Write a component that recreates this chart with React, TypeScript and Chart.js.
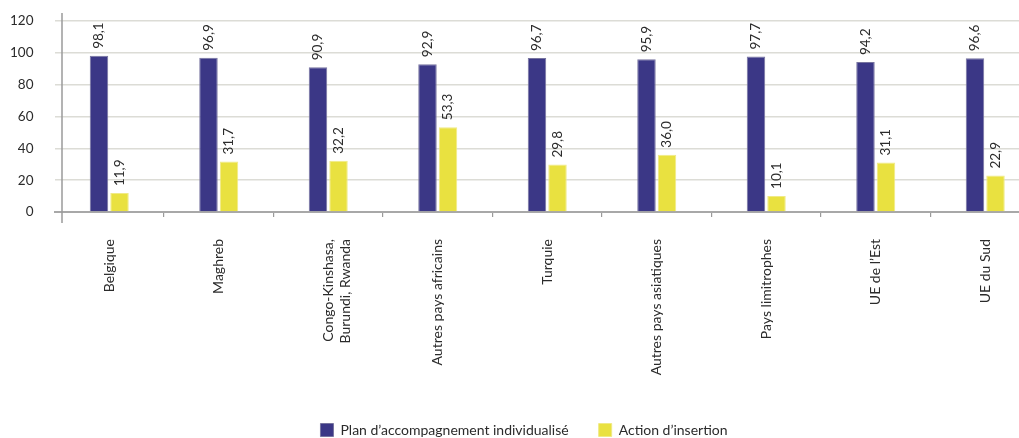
import React, { useEffect, useRef } from "react";
import { Chart, registerables } from "chart.js";

Chart.register(...registerables);

const categories: (string | string[])[] = [
  "Belgique",
  "Maghreb",
  ["Congo-Kinshasa,", "Burundi, Rwanda"],
  "Autres pays africains",
  "Turquie",
  "Autres pays asiatiques",
  "Pays limitrophes",
  "UE de l’Est",
  "UE du Sud",
];
const planValues = [98.1, 96.9, 90.9, 92.9, 96.7, 95.9, 97.7, 94.2, 96.6];
const insertionValues = [11.9, 31.7, 32.2, 53.3, 29.8, 36.0, 10.1, 31.1, 22.9];
const seriesNames = ["Plan d’accompagnement individualisé", "Action d’insertion"];
const yTicks = [0, 20, 40, 60, 80, 100, 120];

const FONT = "Lato, 'Open Sans', sans-serif";
const TEXT = "#2b2b2b";

const fmt = (v: number) => v.toFixed(1).replace(".", ",");

const valueLabels = {
  id: "valueLabels",
  afterDatasetsDraw(chart: any) {
    const ctx = chart.ctx;
    ctx.save();
    ctx.font = `13.5px ${FONT}`;
    ctx.fillStyle = TEXT;
    ctx.textAlign = "left";
    ctx.textBaseline = "middle";
    chart.data.datasets.forEach((ds: any, di: number) => {
      const meta = chart.getDatasetMeta(di);
      meta.data.forEach((bar: any, i: number) => {
        ctx.save();
        ctx.translate(bar.x, bar.y - 7);
        ctx.rotate(-Math.PI / 2);
        ctx.fillText(fmt(ds.data[i]), 0, 0);
        ctx.restore();
      });
    });
    ctx.restore();
  },
};

const yAxisLine = {
  id: "yAxisLine",
  afterDraw(chart: any) {
    const { ctx, chartArea } = chart;
    ctx.save();
    ctx.strokeStyle = "#9a9a9a";
    ctx.lineWidth = 1.5;
    const x = chartArea.left + 7.5;
    ctx.beginPath();
    ctx.moveTo(x, chartArea.top - 8);
    ctx.lineTo(x, chartArea.bottom + 11);
    ctx.stroke();
    ctx.restore();
  },
};

export default function App() {
  const ref = useRef<HTMLCanvasElement>(null);
  useEffect(() => {
    if (!ref.current) return;
    const chart = new Chart(ref.current, {
      type: "bar",
      data: {
        labels: categories,
        datasets: [
          {
            label: seriesNames[0],
            data: planValues,
            backgroundColor: "#3b3786",
            borderColor: "#77749f",
            borderWidth: 1,
            categoryPercentage: 0.375,
            barPercentage: 0.9,
          },
          {
            label: seriesNames[1],
            data: insertionValues,
            backgroundColor: "#e9e140",
            borderColor: "#f0ea86",
            borderWidth: 1,
            categoryPercentage: 0.375,
            barPercentage: 0.9,
          },
        ],
      },
      options: {
        responsive: false,
        animation: false,
        devicePixelRatio: 1,
        layout: { padding: { top: 21, left: 0, right: 5, bottom: 0 } },
        plugins: {
          legend: {
            position: "bottom",
            labels: {
              font: { family: FONT, size: 14 },
              color: TEXT,
              boxWidth: 13,
              boxHeight: 13,
              padding: 30,
              useBorderRadius: false,
            },
          },
          tooltip: { enabled: false },
        },
        scales: {
          x: {
            offset: true,
            grid: {
              offset: true,
              drawOnChartArea: false,
              drawTicks: true,
              tickLength: 5,
              color: (c: any) => (c.index === 0 ? "rgba(0,0,0,0)" : "#9a9a9a"),
              lineWidth: 1.2,
            },
            border: { display: true, color: "#a8a8a8", width: 2 },
            ticks: {
              font: { family: FONT, size: 14 },
              color: TEXT,
              minRotation: 90,
              maxRotation: 90,
              autoSkip: false,
              padding: 22,
            },
            afterFit: (s: any) => {
              s.height = 181;
            },
          },
          y: {
            min: 0,
            max: 120,
            afterBuildTicks: (s: any) => {
              s.ticks = yTicks.map((v) => ({ value: v }));
            },
            grid: {
              color: (c: any) => (c.tick && c.tick.value === 0 ? "#a8a8a8" : "#dcdcd6"),
              lineWidth: 1.5,
              drawTicks: true,
              tickLength: 21,
              tickColor: "rgba(0,0,0,0)",
            },
            border: { display: false },
            ticks: {
              font: { family: FONT, size: 13.5 },
              color: TEXT,
              padding: 0,
            },
            afterFit: (s: any) => {
              s.width = 46.5;
            },
          },
        },
      },
      plugins: [valueLabels, yAxisLine],
    });
    return () => chart.destroy();
  }, []);
  return (
    <div
      style={{
        position: "absolute",
        left: 0,
        top: 0,
        width: 1019,
        height: 438,
        overflow: "hidden",
        background: "#fff",
      }}
    >
      <canvas
        ref={ref}
        width={1037}
        height={447}
        style={{ display: "block", position: "absolute", left: 8, top: 0 }}
      />
    </div>
  );
}
